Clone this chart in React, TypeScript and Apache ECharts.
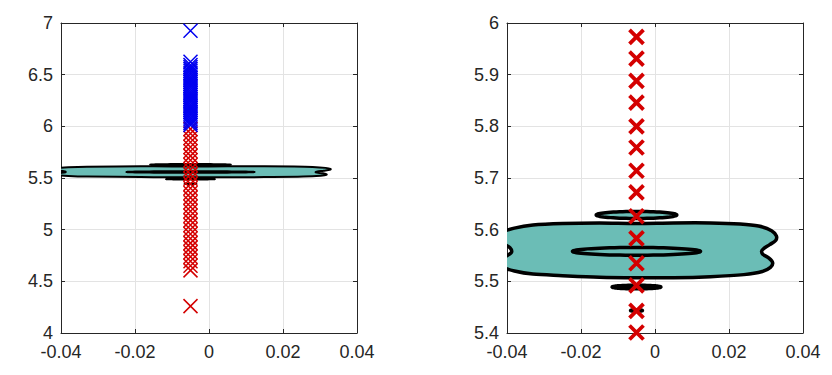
import React, { useEffect, useRef } from "react";
import * as echarts from "echarts";

// ---- data ----
const markerX = -0.005;
const redY = [
  4.26, 4.606, 4.65, 4.694, 4.738, 4.782, 4.826, 4.87, 4.914, 4.958, 5.002, 5.046,
  5.09, 5.134, 5.178, 5.222, 5.266, 5.31, 5.354, 5.401, 5.443, 5.492, 5.535, 5.583,
  5.626, 5.672, 5.714, 5.759, 5.8, 5.846, 5.888, 5.931, 5.973,
];
const blueY = [
  6.012, 6.031, 6.049, 6.068, 6.085, 6.104, 6.121, 6.139, 6.158, 6.176, 6.193, 6.212,
  6.23, 6.249, 6.266, 6.284, 6.302, 6.321, 6.338, 6.356, 6.375, 6.393, 6.41, 6.429,
  6.447, 6.466, 6.483, 6.502, 6.519, 6.538, 6.556, 6.574, 6.593, 6.625, 6.925,
];

// outer contour of the main region (x, y pairs in data units)
const blobX = [
  -0.0428, -0.0412, -0.038, -0.033, -0.025, -0.015, -0.005, 0.005, 0.015, 0.023, 0.028,
  0.0315, 0.0328, 0.0326, 0.031, 0.0293, 0.0288, 0.0292, 0.0308, 0.0318, 0.0312, 0.029,
  0.024, 0.015, 0.005, -0.005, -0.015, -0.025, -0.033, -0.038, -0.0412, -0.0418, -0.0405,
  -0.0388, -0.0392, -0.0412,
];
const blobY = [
  5.582, 5.595, 5.603, 5.609, 5.612, 5.613, 5.612, 5.613, 5.613, 5.611, 5.607,
  5.598, 5.588, 5.579, 5.571, 5.563, 5.558, 5.552, 5.545, 5.536, 5.527, 5.519,
  5.513, 5.509, 5.507, 5.507, 5.508, 5.511, 5.514, 5.52, 5.528, 5.537, 5.547,
  5.556, 5.565, 5.574,
];
// elliptical contours: [cx, cy, rx, ry]
const holeEllipse = [-0.005, 5.558, 0.0173, 0.0075];
const upperEllipse = [-0.005, 5.6285, 0.0109, 0.0068];
const lowerEllipse = [-0.005, 5.489, 0.0066, 0.0035];
const tinyEllipse = [-0.005, 5.4435, 0.0016, 0.0015];

const leftYTicks = { min: 4, max: 7, interval: 0.5 };
const rightYTicks = { min: 5.4, max: 6, interval: 0.1 };
const xTicks = { min: -0.04, max: 0.04, interval: 0.02 };

// ---- helpers ----
function ellipseRing(e: number[], reverse: boolean): number[][] {
  const [cx, cy, rx, ry] = e;
  const pts: number[][] = [];
  const n = 72;
  for (let k = 0; k < n; k++) {
    const t = ((reverse ? n - k : k) / n) * Math.PI * 2;
    pts.push([cx + rx * Math.cos(t), cy + ry * Math.sin(t)]);
  }
  return pts;
}

const TEAL = "#6bbdb6";
const RED = "#d40000";
const BLUE = "#0000f0";
const AX = "#262626";
const GRIDC = "#e3e3e3";

const blobRing = blobX.map((x, i) => [x, blobY[i]]);
const regions = [
  { rings: [blobRing, ellipseRing(holeEllipse, true)], smooth: [true, false], fill: TEAL },
  { rings: [ellipseRing(upperEllipse, false)], smooth: [false], fill: TEAL },
  { rings: [ellipseRing(lowerEllipse, false)], smooth: [false], fill: TEAL },
  { rings: [ellipseRing(tinyEllipse, false)], smooth: [false], fill: "#000" },
];

const f = (v: number) => v.toFixed(2);

function ringPath(pts: number[][], smooth: boolean): string {
  const n = pts.length;
  let d = "M" + f(pts[0][0]) + " " + f(pts[0][1]) + " ";
  if (!smooth) {
    for (let k = 1; k < n; k++) d += "L" + f(pts[k][0]) + " " + f(pts[k][1]) + " ";
    return d + "Z ";
  }
  // closed Catmull-Rom -> cubic bezier
  for (let k = 0; k < n; k++) {
    const p0 = pts[(k - 1 + n) % n];
    const p1 = pts[k];
    const p2 = pts[(k + 1) % n];
    const p3 = pts[(k + 2) % n];
    const c1x = p1[0] + (p2[0] - p0[0]) / 6;
    const c1y = p1[1] + (p2[1] - p0[1]) / 6;
    const c2x = p2[0] - (p3[0] - p1[0]) / 6;
    const c2y = p2[1] - (p3[1] - p1[1]) / 6;
    d += "C" + f(c1x) + " " + f(c1y) + " " + f(c2x) + " " + f(c2y) + " " + f(p2[0]) + " " + f(p2[1]) + " ";
  }
  return d + "Z ";
}

function contourRender(lineWidth: number) {
  return (params: any, api: any) => {
    const r = regions[params.dataIndex];
    let d = "";
    r.rings.forEach((ring, j) => {
      const px = ring.map((p) => api.coord(p));
      d += ringPath(px, r.smooth[j]);
    });
    return {
      type: "path",
      shape: { pathData: d },
      style: { fill: r.fill, stroke: "#000", lineWidth, lineJoin: "round" },
    };
  };
}

const XSYM = "path://M0 0L10 10M10 0L0 10";

function xAxes(gridIndex: number) {
  const base = {
    gridIndex,
    type: "value",
    ...xTicks,
    axisLine: { show: true, onZero: false, lineStyle: { color: AX, width: 1 } },
    axisTick: { show: true, inside: true, length: 4, lineStyle: { color: AX } },
  };
  return [
    {
      ...base,
      position: "bottom",
      axisLabel: {
        show: true,
        color: AX,
        fontSize: 18,
        fontFamily: "Liberation Sans, Arial, sans-serif",
        margin: 10,
        showMinLabel: true,
        showMaxLabel: true,
      },
      splitLine: { show: true, lineStyle: { color: GRIDC, width: 1 } },
    },
    {
      ...base,
      position: "top",
      axisLabel: { show: false },
      splitLine: { show: false },
    },
  ];
}

function yAxes(gridIndex: number, t: { min: number; max: number; interval: number }) {
  const base = {
    gridIndex,
    type: "value",
    ...t,
    axisLine: { show: true, onZero: false, lineStyle: { color: AX, width: 1 } },
    axisTick: { show: true, inside: true, length: 4, lineStyle: { color: AX } },
  };
  return [
    {
      ...base,
      position: "left",
      axisLabel: {
        show: true,
        color: AX,
        fontSize: 18,
        fontFamily: "Liberation Sans, Arial, sans-serif",
        margin: 8,
        showMinLabel: true,
        showMaxLabel: true,
      },
      splitLine: { show: true, lineStyle: { color: GRIDC, width: 1 } },
    },
    {
      ...base,
      position: "right",
      axisLabel: { show: false },
      splitLine: { show: false },
    },
  ];
}

function markerSeries(values: number[], color: string, axis: number, lw: number, z: number) {
  return {
    type: "scatter",
    xAxisIndex: axis,
    yAxisIndex: axis,
    data: values.map((v) => [markerX, v]),
    symbol: XSYM,
    symbolSize: 14,
    clip: true,
    z,
    itemStyle: { color: "rgba(0,0,0,0)", borderColor: color, borderWidth: lw, opacity: 1 },
    emphasis: { disabled: true },
  };
}

export default function App() {
  const ref = useRef<HTMLDivElement>(null);
  useEffect(() => {
    if (!ref.current) return;
    const chart = echarts.init(ref.current, undefined, { renderer: "svg" });
    const contourData = regions.map((r) => r.rings[0][0]);
    chart.setOption({
      animation: false,
      backgroundColor: "#ffffff",
      grid: [
        { left: 61, top: 23, width: 296, height: 310, containLabel: false },
        { left: 507, top: 23, width: 296, height: 310, containLabel: false },
      ],
      xAxis: [...xAxes(0), ...xAxes(1)],
      yAxis: [...yAxes(0, leftYTicks), ...yAxes(1, rightYTicks)],
      series: [
        {
          type: "custom",
          xAxisIndex: 0,
          yAxisIndex: 0,
          clip: true,
          z: 2,
          data: contourData,
          renderItem: contourRender(2),
        },
        markerSeries(redY, RED, 0, 1.5, 3),
        markerSeries(blueY, BLUE, 0, 1.5, 4),
        {
          type: "custom",
          xAxisIndex: 2,
          yAxisIndex: 2,
          clip: true,
          z: 2,
          data: contourData,
          renderItem: contourRender(3.5),
        },
        markerSeries(redY, RED, 2, 3.8, 3),
        markerSeries(blueY, BLUE, 2, 3.8, 4),
      ],
    });
    return () => chart.dispose();
  }, []);
  return (
    <div
      ref={ref}
      style={{ position: "fixed", left: 0, top: 0, width: 832, height: 375, background: "#fff" }}
    />
  );
}
